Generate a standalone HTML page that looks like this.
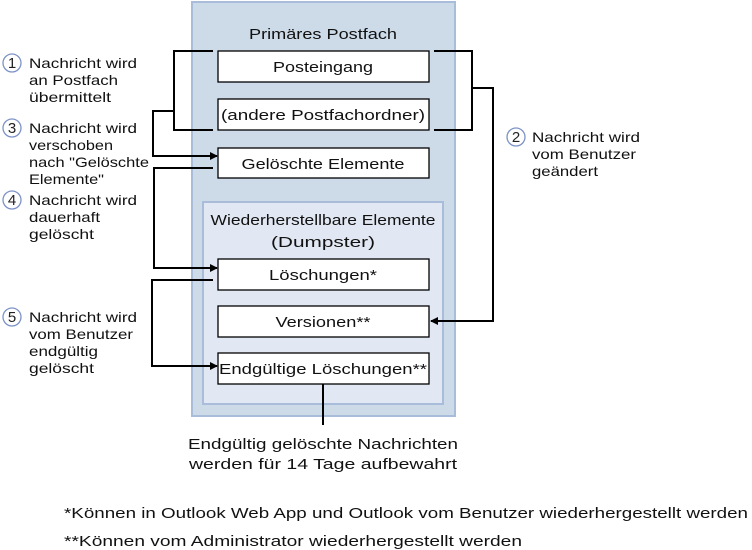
<!DOCTYPE html>
<html><head><meta charset="utf-8"><style>
body{margin:0;background:#fff}
svg{display:block;font-family:"Liberation Sans",sans-serif}
</style></head><body>
<svg width="752" height="550" viewBox="0 0 752 550" xmlns="http://www.w3.org/2000/svg">
<defs><marker id="a" markerWidth="8" markerHeight="8" refX="7" refY="4" orient="auto" markerUnits="userSpaceOnUse"><path d="M0,0 L8,4 L0,8z" fill="#000"/></marker></defs>
<rect x="192" y="2" width="263" height="414" fill="#cddbe9" stroke="#a9bcd9" stroke-width="2"/>
<rect x="203" y="202" width="240" height="202" fill="#e2e8f3" stroke="#a9bcd9" stroke-width="2"/>
<g fill="#fff" stroke="#000" stroke-width="1.3">
<rect x="218" y="51" width="211" height="31"/>
<rect x="218" y="99" width="211" height="31"/>
<rect x="218" y="148" width="211" height="30"/>
<rect x="218" y="259" width="211" height="31"/>
<rect x="218" y="306" width="211" height="31"/>
<rect x="218" y="353" width="211" height="31"/>
</g>
<g font-size="15" text-anchor="middle" fill="#111" lengthAdjust="spacingAndGlyphs">
<text x="323" y="39" textLength="148" lengthAdjust="spacingAndGlyphs">Primäres Postfach</text>
<text x="323" y="225" textLength="225" lengthAdjust="spacingAndGlyphs">Wiederherstellbare Elemente</text>
<text x="323" y="247" textLength="104" lengthAdjust="spacingAndGlyphs">(Dumpster)</text>
<text x="323" y="72" textLength="100" lengthAdjust="spacingAndGlyphs">Posteingang</text>
<text x="323" y="120" textLength="204" lengthAdjust="spacingAndGlyphs">(andere Postfachordner)</text>
<text x="323" y="169" textLength="163" lengthAdjust="spacingAndGlyphs">Gelöschte Elemente</text>
<text x="323" y="280" textLength="108" lengthAdjust="spacingAndGlyphs">Löschungen*</text>
<text x="323" y="327" textLength="95" lengthAdjust="spacingAndGlyphs">Versionen**</text>
<text x="323" y="374" textLength="208" lengthAdjust="spacingAndGlyphs">Endgültige Löschungen**</text>
<text x="323" y="449" textLength="270" lengthAdjust="spacingAndGlyphs">Endgültig gelöschte Nachrichten</text>
<text x="323" y="469" textLength="268" lengthAdjust="spacingAndGlyphs">werden für 14 Tage aufbewahrt</text>
</g>
<g fill="none" stroke="#000" stroke-width="2">
<path d="M213,51 H174 V130 H213"/>
<path d="M174,111 H153 V156 H217" marker-end="url(#a)"/>
<path d="M213,168 H154 V268 H217" marker-end="url(#a)"/>
<path d="M213,280 H152 V366 H217" marker-end="url(#a)"/>
<path d="M434,51 H472 V130 H434"/>
<path d="M472,88 H493 V321 H431" marker-end="url(#a)"/>
<path d="M323,384 V425"/>
</g>
<g fill="#fff" stroke="#7d93c7" stroke-width="1.3">
<circle cx="12" cy="63" r="9"/><circle cx="12" cy="128" r="9"/><circle cx="12" cy="200" r="9"/><circle cx="12" cy="317" r="9"/><circle cx="516" cy="137" r="9"/>
</g>
<g font-size="15" text-anchor="middle" fill="#222">
<text x="12" y="68">1</text><text x="12" y="133">3</text><text x="12" y="205">4</text><text x="12" y="322">5</text><text x="516" y="142">2</text>
</g>
<g font-size="14" fill="#111">
<text x="29" y="68" textLength="108" lengthAdjust="spacingAndGlyphs">Nachricht wird</text><text x="29" y="85" textLength="89" lengthAdjust="spacingAndGlyphs">an Postfach</text><text x="29" y="102" textLength="82" lengthAdjust="spacingAndGlyphs">übermittelt</text>
<text x="29" y="133" textLength="108" lengthAdjust="spacingAndGlyphs">Nachricht wird</text><text x="29" y="150" textLength="84" lengthAdjust="spacingAndGlyphs">verschoben</text><text x="29" y="167" textLength="120" lengthAdjust="spacingAndGlyphs">nach "Gelöschte</text><text x="29" y="184" textLength="75" lengthAdjust="spacingAndGlyphs">Elemente"</text>
<text x="29" y="205" textLength="108" lengthAdjust="spacingAndGlyphs">Nachricht wird</text><text x="29" y="222" textLength="71" lengthAdjust="spacingAndGlyphs">dauerhaft</text><text x="29" y="239" textLength="65" lengthAdjust="spacingAndGlyphs">gelöscht</text>
<text x="29" y="322" textLength="108" lengthAdjust="spacingAndGlyphs">Nachricht wird</text><text x="29" y="339" textLength="104" lengthAdjust="spacingAndGlyphs">vom Benutzer</text><text x="29" y="356" textLength="69" lengthAdjust="spacingAndGlyphs">endgültig</text><text x="29" y="373" textLength="65" lengthAdjust="spacingAndGlyphs">gelöscht</text>
<text x="532" y="142" textLength="108" lengthAdjust="spacingAndGlyphs">Nachricht wird</text><text x="532" y="159" textLength="104" lengthAdjust="spacingAndGlyphs">vom Benutzer</text><text x="532" y="176" textLength="66" lengthAdjust="spacingAndGlyphs">geändert</text>
</g>
<g font-size="15" fill="#111">
<text x="64" y="518" textLength="684" lengthAdjust="spacingAndGlyphs">*Können in Outlook Web App und Outlook vom Benutzer wiederhergestellt werden</text>
<text x="64" y="546" textLength="458" lengthAdjust="spacingAndGlyphs">**Können vom Administrator wiederhergestellt werden</text>
</g>
</svg>
</body></html>
